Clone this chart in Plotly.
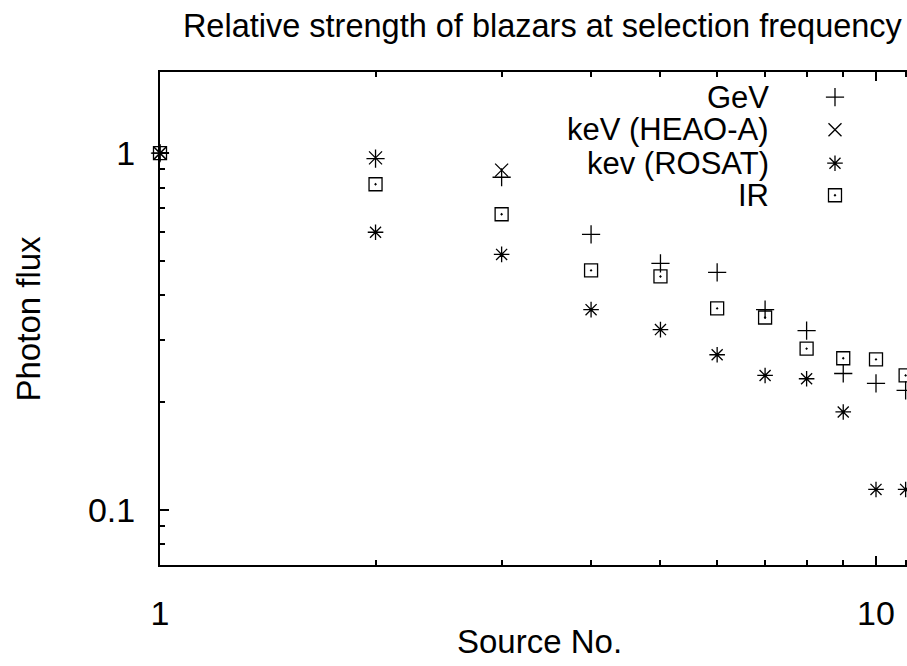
import plotly.graph_objects as go

# Relative photon flux of blazars, normalised to the brightest source
source_no = [1, 2, 3, 4, 5, 6, 7, 8, 9, 10, 11]
gev = [1.0, 0.965, 0.856, 0.592, 0.491, 0.463, 0.364, 0.318, 0.241, 0.226, 0.216]
kev_heao_x = [1, 2, 3]
kev_heao = [1.0, 0.97, 0.896]
kev_rosat = [1.0, 0.600, 0.520, 0.364, 0.320, 0.272, 0.238, 0.233, 0.188, 0.114, 0.114]
ir = [1.0, 0.818, 0.674, 0.469, 0.451, 0.367, 0.346, 0.283, 0.266, 0.264, 0.238]

series_names = ["GeV", "keV (HEAO-A)", "kev (ROSAT)", "IR"]
series_symbols = ["cross-thin-open", "x-thin-open", "asterisk-open", "square-open-dot"]

x_major = [1, 10]
x_minor = [2, 3, 4, 5, 6, 7, 8, 9, 11]
y_major = [0.1, 1]
y_minor = [0.07, 0.08, 0.09, 0.2, 0.3, 0.4, 0.5, 0.6, 0.7, 0.8, 0.9]

FONT = "Liberation Sans, Arial, Helvetica, sans-serif"
W, H = 907, 666
ML, MT, MB, MR = 160, 72, 101, 0
TEXT_SIZE = 33
TITLE_SIZE = 32.5
KEY_SIZE = 31
TICK_SIZE = 34

marker_line = dict(color="black", width=1.3)
msize = 13

fig = go.Figure()
xs = [source_no, kev_heao_x, source_no, source_no]
ys = [gev, kev_heao, kev_rosat, ir]
for name, sym, x, y in zip(series_names, series_symbols, xs, ys):
    fig.add_trace(go.Scatter(
        x=x, y=y, mode="markers", name=name, showlegend=False,
        marker=dict(symbol=sym, size=msize, color="black", line=marker_line),
        cliponaxis=False,
    ))

# Key: right-aligned labels with the sample symbol to their right
key_rows_y = [0.949, 0.883, 0.815, 0.750]
key_sym_x = 0.9036
key_text_x = 0.818
for name, sym, ky in zip(series_names, series_symbols, key_rows_y):
    fig.add_trace(go.Scatter(
        x=[key_sym_x], y=[ky], xaxis="x2", yaxis="y2", mode="markers",
        showlegend=False, hoverinfo="skip",
        marker=dict(symbol=sym, size=msize, color="black", line=marker_line),
    ))
    fig.add_annotation(x=key_text_x, y=ky, xref="paper", yref="paper",
                       text=name, showarrow=False, xanchor="right",
                       yanchor="middle",
                       font=dict(family=FONT, size=KEY_SIZE, color="black"))

# Axis titles placed against the full (wider) plotting frame
fig.add_annotation(x=0.5087, y=-0.155, xref="paper", yref="paper",
                   text="Source No.", showarrow=False, xanchor="center",
                   yanchor="middle",
                   font=dict(family=FONT, size=TEXT_SIZE, color="black"))
fig.add_annotation(x=-0.1767, y=0.5, xref="paper", yref="paper",
                   text="Photon flux", showarrow=False, textangle=-90,
                   xanchor="center", yanchor="middle",
                   font=dict(family=FONT, size=TEXT_SIZE, color="black"))

axis_common = dict(
    showgrid=False, zeroline=False, showline=True, linecolor="black",
    linewidth=2, ticks="inside", ticklen=9, tickwidth=1.5, tickcolor="black",
    tickfont=dict(family=FONT, size=TICK_SIZE, color="black"),
)

fig.update_layout(
    width=W, height=H,
    margin=dict(l=ML, r=MR, t=MT, b=MB, pad=0),
    paper_bgcolor="white", plot_bgcolor="white",
    font=dict(family=FONT, color="black"),
    title=dict(text="Relative strength of blazars at selection frequency",
               x=0.598, xref="container", xanchor="center",
               y=1 - 26 / H, yref="container", yanchor="middle",
               font=dict(family=FONT, size=TITLE_SIZE, color="black")),
    xaxis=dict(
        type="log", range=[0, 1.0433], mirror="ticks",
        tickmode="array", tickvals=x_major, ticktext=[str(v) for v in x_major],
        ticklabelstandoff=17,
        minor=dict(tickmode="array", tickvals=x_minor, ticks="inside",
                   ticklen=5, tickwidth=1.5, tickcolor="black", showgrid=False),
        **axis_common,
    ),
    yaxis=dict(
        type="log", range=[-1.155, 0.2276], mirror=False,
        tickmode="array", tickvals=y_major, ticktext=["0.1", "1"],
        ticklabelstandoff=16,
        minor=dict(tickmode="array", tickvals=y_minor, ticks="inside",
                   ticklen=5, tickwidth=1.5, tickcolor="black", showgrid=False),
        **axis_common,
    ),
    xaxis2=dict(overlaying="x", range=[0, 1], visible=False, fixedrange=True),
    yaxis2=dict(overlaying="y", range=[0, 1], visible=False, fixedrange=True),
    showlegend=False,
)

fig.write_html("out.html")
